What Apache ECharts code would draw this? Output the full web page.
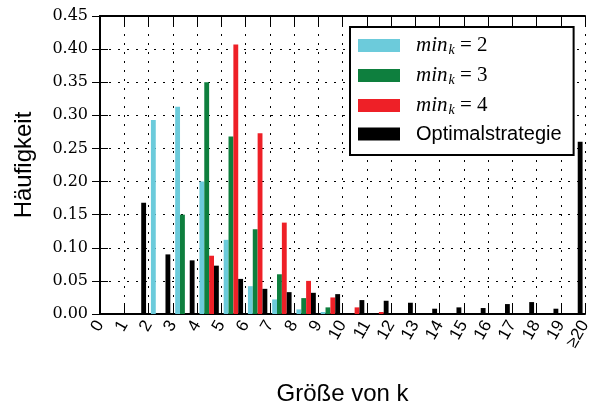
<!DOCTYPE html>
<html>
<head>
<meta charset="utf-8">
<script src="https://cdn.jsdelivr.net/npm/echarts@6/dist/echarts.min.js"></script>
<style>
  html, body { margin: 0; padding: 0; background: #ffffff; }
  #chart { width: 599px; height: 411px; }
</style>
</head>
<body>
<div id="chart"></div>
<script>
// Größe von k: 0 .. 19, last tick stands for "≥20"
const kCategories = ['0','1','2','3','4','5','6','7','8','9','10','11','12','13','14','15','16','17','18','19'];
const tickLabels = ['0','1','2','3','4','5','6','7','8','9','10','11','12','13','14','15','16','17','18','19','≥20'];

// Häufigkeit per k
const minK2 = [0, 0, 0.293, 0.313, 0.200, 0.112, 0.042, 0.022, 0.007, 0.003, 0, 0, 0, 0, 0, 0, 0, 0, 0, 0];
const minK3 = [0, 0, 0, 0.150, 0.350, 0.268, 0.128, 0.060, 0.024, 0.010, 0, 0, 0, 0, 0, 0, 0, 0, 0, 0];
const minK4 = [0, 0, 0, 0, 0.088, 0.407, 0.273, 0.138, 0.050, 0.025, 0.010, 0.003, 0, 0, 0, 0, 0, 0, 0, 0];
const optimal = [0, 0.168, 0.090, 0.081, 0.073, 0.053, 0.038, 0.033, 0.032, 0.030, 0.021, 0.020, 0.017, 0.008, 0.010, 0.009, 0.015, 0.018, 0.008, 0.260];

const seriesNames = ['min_k = 2', 'min_k = 3', 'min_k = 4', 'Optimalstrategie'];
const seriesColors = ['#6ccbdb', '#0e7f3e', '#ee2027', '#000000'];
const seriesData = [minK2, minK3, minK4, optimal];

const chart = echarts.init(document.getElementById('chart'), null, { renderer: 'canvas' });

const dotted = { color: '#000', width: 1, type: [2, 7] };

const option = {
  backgroundColor: '#ffffff',
  animation: false,
  grid: { left: 100, right: 14, top: 16, bottom: 95 },
  legend: {
    left: 350,
    top: 27,
    orient: 'vertical',
    backgroundColor: '#ffffff',
    borderColor: '#000',
    borderWidth: 2,
    borderRadius: 0,
    padding: [7, 12, 11, 8],
    itemWidth: 42,
    itemHeight: 13,
    itemGap: 7,
    icon: 'rect',
    data: seriesNames,
    formatter: function (name) {
      if (name.indexOf('min_k') === 0) {
        return '{it|min}{sub|k}{eq| = ' + name.split('= ')[1] + '}';
      }
      return '{sans|' + name + '}';
    },
    textStyle: {
      color: '#000',
      padding: [0, 0, 0, 11],
      rich: {
        it: { fontFamily: 'Liberation Serif', fontStyle: 'italic', fontSize: 21, lineHeight: 20, color: '#000' },
        sub: { fontFamily: 'Liberation Serif', fontStyle: 'italic', fontSize: 14, lineHeight: 20, padding: [9, 0, 0, 1], color: '#000' },
        eq: { fontFamily: 'Liberation Serif', fontSize: 21, lineHeight: 20, color: '#000' },
        sans: { fontFamily: 'Liberation Sans', fontSize: 20, lineHeight: 20, color: '#000' }
      }
    }
  },
  xAxis: [
    {
      type: 'value',
      position: 'bottom',
      min: 0,
      max: 20,
      interval: 1,
      name: 'Größe von k',
      nameLocation: 'middle',
      nameGap: 68,
      nameTextStyle: { fontFamily: 'Liberation Sans', fontSize: 24, color: '#000' },
      axisLine: { show: true, lineStyle: { color: '#000', width: 2 } },
      axisTick: { show: true, inside: true, length: 11, lineStyle: { color: '#000', width: 1 } },
      axisLabel: {
        show: true,
        rotate: 60,
        margin: 8,
        fontFamily: 'Liberation Sans',
        fontSize: 17,
        color: '#000',
        formatter: function (v) { return tickLabels[Math.round(v)]; }
      },
      splitLine: { show: true, lineStyle: dotted }
    },
    {
      type: 'category',
      position: 'bottom',
      data: kCategories,
      boundaryGap: true,
      show: false
    },
    {
      type: 'value',
      position: 'top',
      min: 0,
      max: 20,
      interval: 1,
      axisLine: { show: true, lineStyle: { color: '#000', width: 2 } },
      axisTick: { show: true, inside: true, length: 10, lineStyle: { color: '#000', width: 1 } },
      axisLabel: { show: false },
      splitLine: { show: false }
    }
  ],
  yAxis: [
    {
      type: 'value',
      position: 'left',
      min: 0,
      max: 0.45,
      interval: 0.05,
      name: 'Häufigkeit',
      nameLocation: 'middle',
      nameGap: 64,
      nameTextStyle: { fontFamily: 'Liberation Sans', fontSize: 24, color: '#000' },
      axisLine: { show: true, lineStyle: { color: '#000', width: 2 } },
      axisTick: { show: true, inside: true, length: 8, lineStyle: { color: '#000', width: 1 } },
      axisLabel: {
        margin: 12,
        fontFamily: 'DejaVu Serif',
        fontSize: 16,
        color: '#000',
        formatter: function (v) { return v.toFixed(2); }
      },
      splitLine: { show: true, lineStyle: dotted }
    },
    {
      type: 'value',
      position: 'right',
      min: 0,
      max: 0.45,
      interval: 0.05,
      axisLine: { show: true, lineStyle: { color: '#000', width: 2 } },
      axisTick: { show: true, inside: true, length: 8, lineStyle: { color: '#000', width: 1 } },
      axisLabel: { show: false },
      splitLine: { show: false }
    }
  ],
  series: seriesNames.map(function (name, i) {
    return {
      name: name,
      type: 'bar',
      xAxisIndex: 1,
      yAxisIndex: 0,
      data: seriesData[i],
      barWidth: '20%',
      barGap: '0%',
      itemStyle: { color: seriesColors[i] },
      z: 3
    };
  })
};

chart.setOption(option);
</script>
</body>
</html>
